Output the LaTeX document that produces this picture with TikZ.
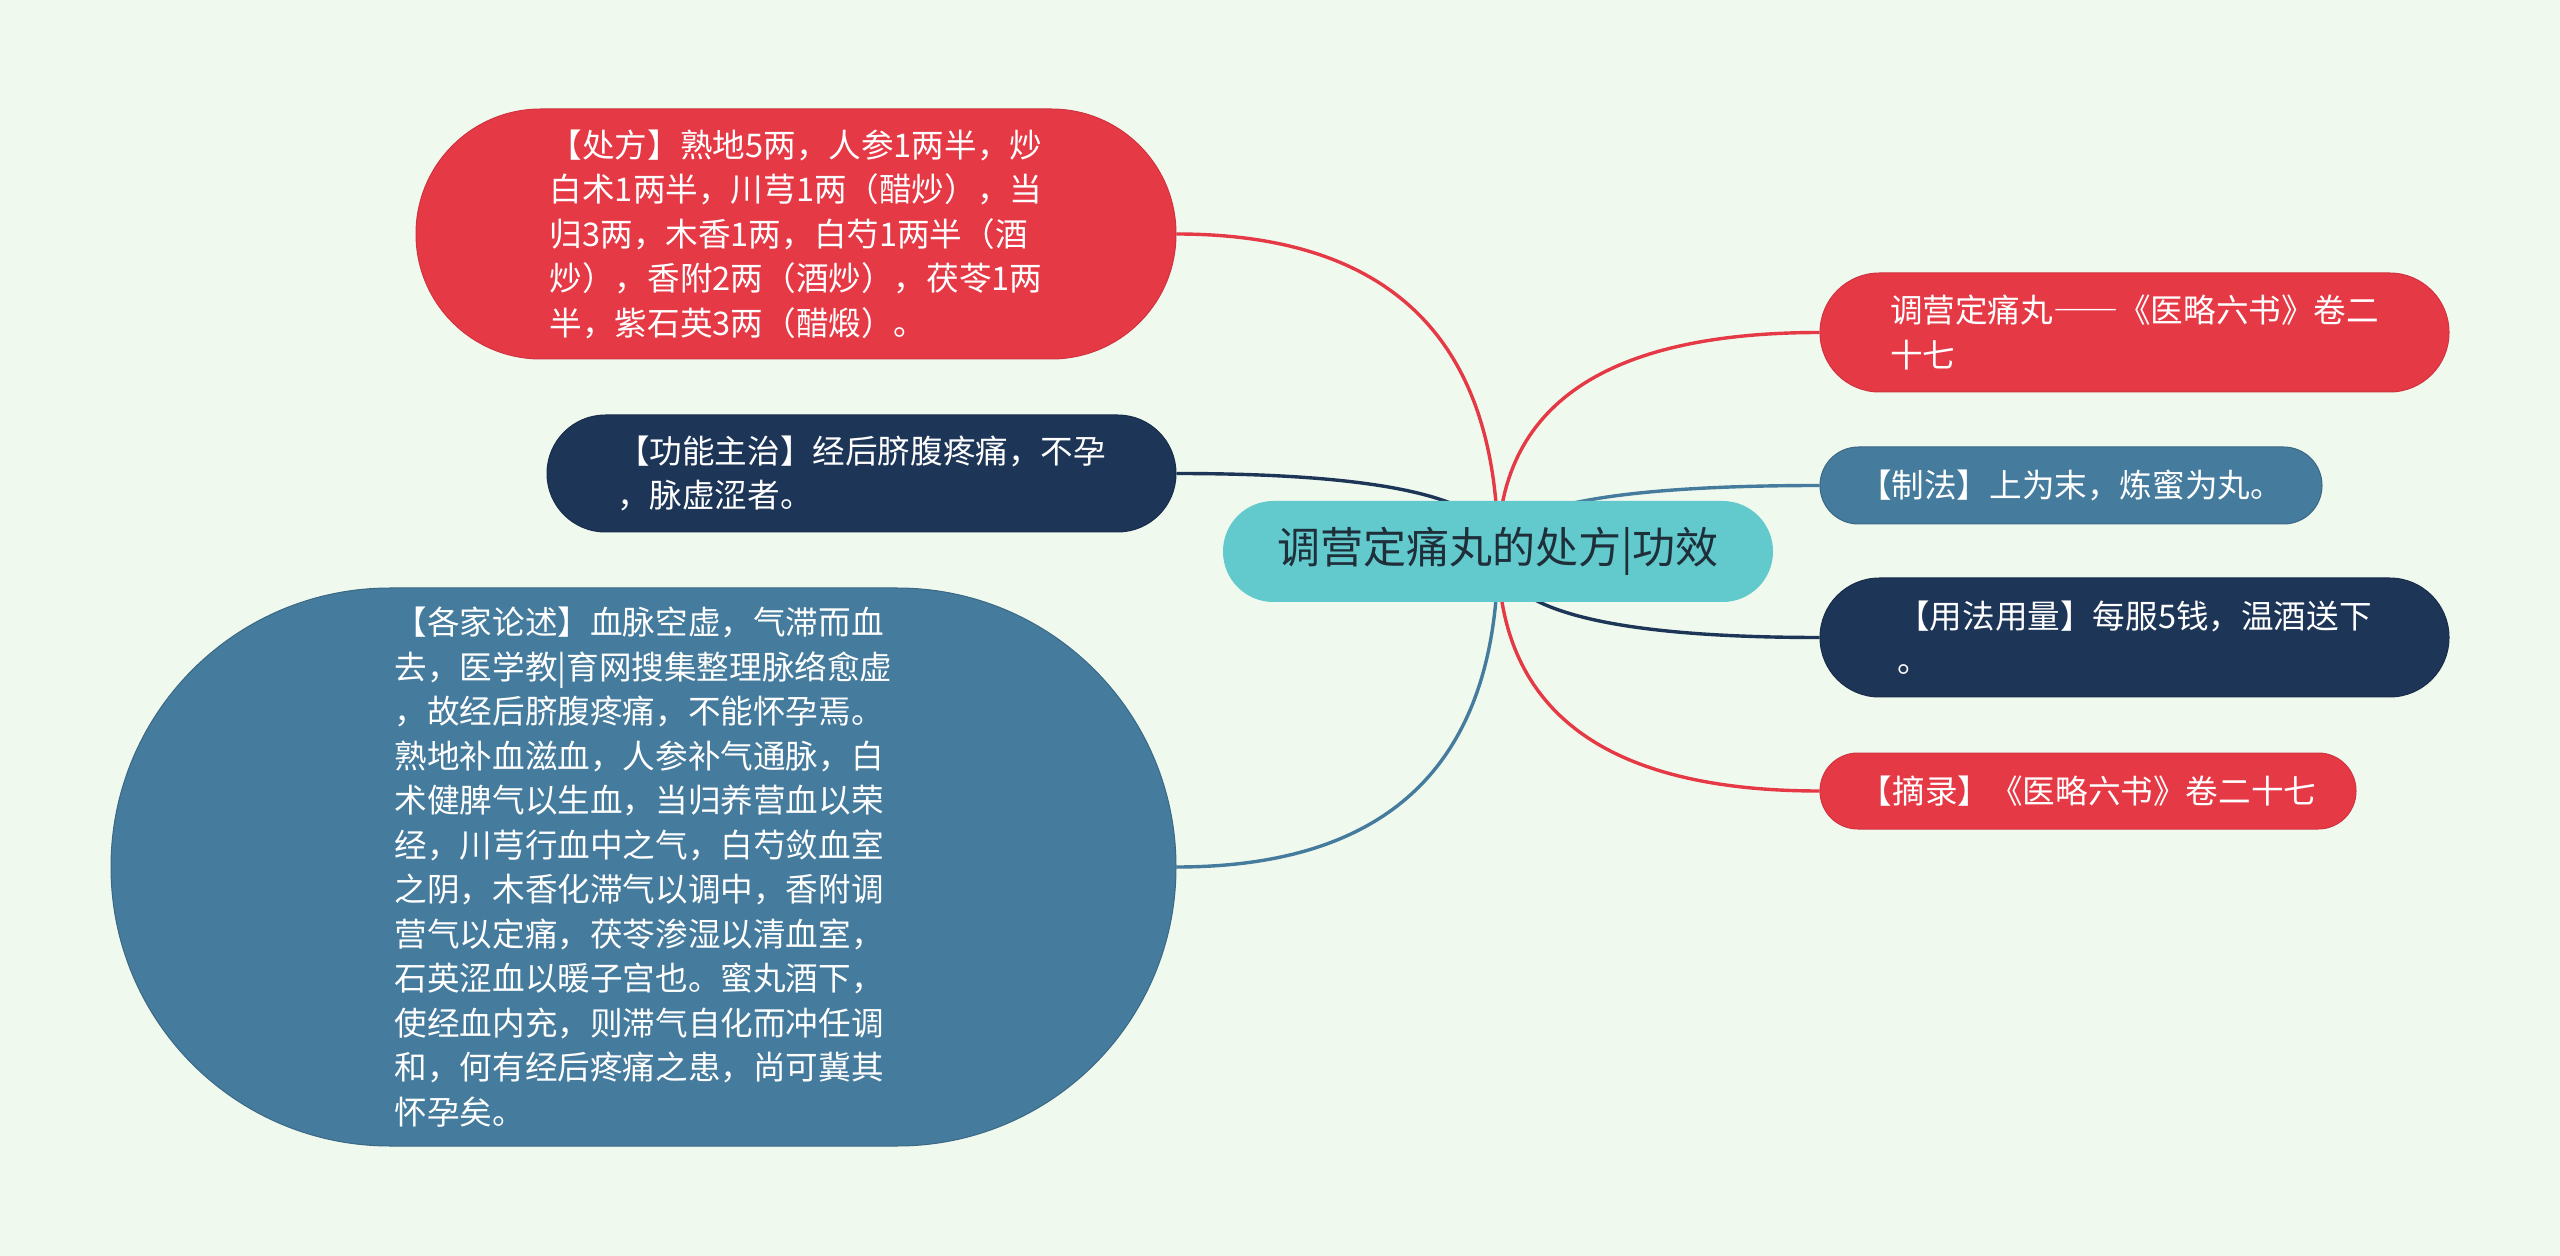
\documentclass[tikz,border=0pt]{standalone}
\usepackage{fontspec}
\setmainfont{Noto Sans CJK SC}
\usetikzlibrary{calc}
\definecolor{bgc}{HTML}{F0F9EE}
\definecolor{cred}{HTML}{E63946}
\definecolor{credb}{HTML}{D0333F}
\definecolor{cnavy}{HTML}{1D3557}
\definecolor{cblue}{HTML}{457B9D}
\definecolor{cteal}{HTML}{62C9CC}
\definecolor{ctext}{HTML}{1F2F3A}
\pgfdeclarelayer{bg}
\pgfsetlayers{bg,main}
\begin{document}
\begin{tikzpicture}[x=0.5pt,y=-0.5pt,
  pill/.style={rectangle, inner sep=0pt, align=left, text=white,
    font=\fontsize{16.3}{22.25}\selectfont},
  redpill/.style={pill, fill=cred, draw=credb, line width=0.5pt},
  navypill/.style={pill, fill=cnavy, draw=cnavy!85!black, line width=0.5pt},
  bluepill/.style={pill, fill=cblue, draw=cblue!85!black, line width=0.5pt},
  link/.style={line width=1.7pt}]

\useasboundingbox (0,0) rectangle (2560,1256);

% central topic
\node[pill, fill=cteal, text=ctext, align=center, minimum width=275pt, minimum height=50.5pt,
  rounded corners=25.2pt, font=\fontsize{21.5}{26}\selectfont] (c) at (1498,551.5) {调营定痛丸的处方|功效};

% left branches
\node[redpill, minimum width=380pt, minimum height=125pt, rounded corners=62.4pt] (k1) at (796,234)
  {【处方】熟地5两，人参1两半，炒\\白术1两半，川芎1两（醋炒），当\\归3两，木香1两，白芍1两半（酒\\炒），香附2两（酒炒），茯苓1两\\半，紫石英3两（醋煅）。};

\node[navypill, minimum width=314.5pt, minimum height=58.5pt, rounded corners=29.2pt] (k2) at (861.5,473.5)
  {【功能主治】经后脐腹疼痛，不孕\\，脉虚涩者。};

\node[bluepill, minimum width=532.5pt, minimum height=279pt, rounded corners=139.4pt] (k3) at (643.5,867)
  {【各家论述】血脉空虚，气滞而血\\去，医学教|育网搜集整理脉络愈虚\\，故经后脐腹疼痛，不能怀孕焉。\\熟地补血滋血，人参补气通脉，白\\术健脾气以生血，当归养营血以荣\\经，川芎行血中之气，白芍敛血室\\之阴，木香化滞气以调中，香附调\\营气以定痛，茯苓渗湿以清血室，\\石英涩血以暖子宫也。蜜丸酒下，\\使经血内充，则滞气自化而冲任调\\和，何有经后疼痛之患，尚可冀其\\怀孕矣。};

% right branches
\node[redpill, minimum width=314.5pt, minimum height=59.5pt, rounded corners=29.7pt] (r1) at (2134.5,332.5)
  {调营定痛丸{\addfontfeature{RawFeature=+fwid}——}《医略六书》卷二\\十七};

\node[bluepill, minimum width=251pt, minimum height=38.5pt, rounded corners=19.2pt] (r2) at (2071,485.5)
  {【制法】上为末，炼蜜为丸。};

\node[navypill, minimum width=314.5pt, minimum height=59.5pt, rounded corners=29.7pt] (r3) at (2134.5,637.5)
  {【用法用量】每服5钱，温酒送下\\。};

\node[redpill, minimum width=268pt, minimum height=38pt, rounded corners=18.9pt] (r4) at (2088,791)
  {【摘录】《医略六书》卷二十七};

\begin{pgfonlayer}{bg}
  \fill[bgc] (0,0) rectangle (2560,1256);
  \draw[link, cred] (c.center) .. controls ($(c.center)!0.6667!(c.center|-k1.east)$) and ($(k1.east)!0.6667!(c.center|-k1.east)$) .. (k1.east);
  \draw[link, cnavy] (c.center) .. controls ($(c.center)!0.6667!(c.center|-k2.east)$) and ($(k2.east)!0.6667!(c.center|-k2.east)$) .. (k2.east);
  \draw[link, cblue] (c.center) .. controls ($(c.center)!0.6667!(c.center|-k3.east)$) and ($(k3.east)!0.6667!(c.center|-k3.east)$) .. (k3.east);
  \draw[link, cred] (c.center) .. controls ($(c.center)!0.6667!(c.center|-r1.west)$) and ($(r1.west)!0.6667!(c.center|-r1.west)$) .. (r1.west);
  \draw[link, cblue] (c.center) .. controls ($(c.center)!0.6667!(c.center|-r2.west)$) and ($(r2.west)!0.6667!(c.center|-r2.west)$) .. (r2.west);
  \draw[link, cnavy] (c.center) .. controls ($(c.center)!0.6667!(c.center|-r3.west)$) and ($(r3.west)!0.6667!(c.center|-r3.west)$) .. (r3.west);
  \draw[link, cred] (c.center) .. controls ($(c.center)!0.6667!(c.center|-r4.west)$) and ($(r4.west)!0.6667!(c.center|-r4.west)$) .. (r4.west);
\end{pgfonlayer}
\end{tikzpicture}
\end{document}
